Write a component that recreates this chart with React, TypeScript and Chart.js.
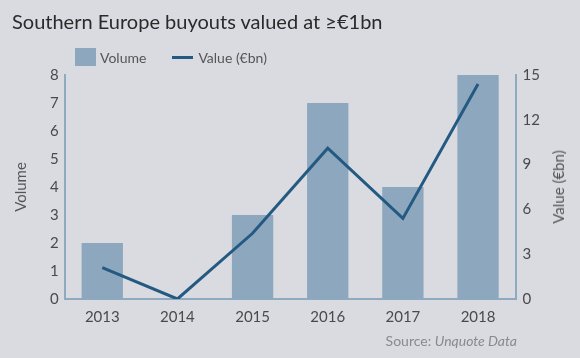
import React, { useEffect, useRef } from "react";
import { Chart, registerables } from "chart.js";

Chart.register(...registerables);

const years = ["2013", "2014", "2015", "2016", "2017", "2018"];
const volume = [2, 0, 3, 7, 4, 8];
const valueBn = [2.1, 0, 4.4, 10.1, 5.4, 14.4];

const BG = "#d9dbe0";
const BAR = "#8da8be";
const LINE = "#245a82";
const AXIS = "#8eaac0";
const TICK = "#4a4a4a";

export default function App() {
  const ref = useRef<HTMLCanvasElement>(null);

  useEffect(() => {
    document.body.style.margin = "0";
    const ctx = ref.current!;
    const chart = new Chart(ctx, {
      type: "bar",
      data: {
        labels: years,
        datasets: [
          {
            type: "line",
            label: "Value (€bn)",
            data: valueBn,
            yAxisID: "y1",
            borderColor: LINE,
            borderWidth: 3,
            pointRadius: 0,
            tension: 0,
            order: 1,
          } as any,
          {
            type: "bar",
            label: "Volume",
            data: volume,
            yAxisID: "y",
            backgroundColor: BAR,
            barPercentage: 0.55,
            categoryPercentage: 1,
            order: 2,
          },
        ],
      },
      options: {
        animation: false,
        responsive: false,
        layout: { padding: { left: 12, right: 33, top: 75, bottom: 23 } },
        plugins: { legend: { display: false }, tooltip: { enabled: false }, title: { display: false } },
        scales: {
          x: {
            grid: { display: false, drawTicks: false },
            border: { display: true, color: AXIS, width: 2 },
            ticks: { color: TICK, font: { family: "Lato", size: 15 }, padding: 9 },
          },
          y: {
            position: "left",
            min: 0,
            max: 8,
            grid: { display: false, drawTicks: false },
            border: { display: true, color: AXIS, width: 2 },
            ticks: { stepSize: 1, color: TICK, font: { family: "Lato", size: 15 }, padding: 6 },
            title: { display: true, text: "Volume", color: "#555", font: { family: "Lato", size: 15 }, padding: { top: 0, bottom: 14 } },
          },
          y1: {
            position: "right",
            min: 0,
            max: 15,
            grid: { display: false, drawTicks: false },
            border: { display: true, color: AXIS, width: 2 },
            ticks: { stepSize: 3, color: TICK, font: { family: "Lato", size: 15 }, padding: 7 },
          },
        },
      },
    });
    return () => chart.destroy();
  }, []);

  return (
    <div style={{ position: "relative", width: 580, height: 358, background: BG, fontFamily: "Lato", overflow: "hidden" }}>
      <canvas ref={ref} width={580} height={358} style={{ position: "absolute", left: 0, top: 0 }} />
      <div style={{ position: "absolute", left: 12, top: 9, fontSize: 20, color: "#2a2a2a", whiteSpace: "nowrap" }}>
        Southern Europe buyouts valued at ≥€1bn
      </div>
      <div style={{ position: "absolute", left: 75, top: 48, display: "flex", alignItems: "center", fontSize: 14, color: "#555", whiteSpace: "nowrap" }}>
        <span style={{ display: "inline-block", width: 21, height: 18, background: BAR, marginRight: 4 }} />
        <span>Volume</span>
        <span style={{ display: "inline-block", width: 21, height: 3, background: LINE, marginLeft: 26, marginRight: 5 }} />
        <span>Value (€bn)</span>
      </div>
      <div
        style={{
          position: "absolute",
          left: 558,
          top: 187,
          transform: "translate(-50%, -50%) rotate(-90deg)",
          fontSize: 15,
          color: "#555",
          whiteSpace: "nowrap",
        }}
      >
        Value (€bn)
      </div>
      <div style={{ position: "absolute", right: 63, top: 332, fontSize: 14, color: "#8a8a8a", whiteSpace: "nowrap" }}>
        Source: <i>Unquote Data</i>
      </div>
    </div>
  );
}
